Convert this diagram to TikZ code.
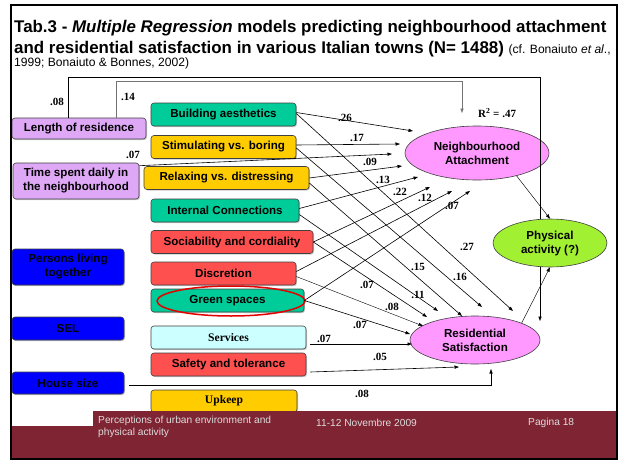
\documentclass[tikz,border=0pt]{standalone}
\usepackage{fontspec}
\setmainfont{Liberation Sans}
\newfontfamily\tnr{Liberation Serif}
\usetikzlibrary{arrows.meta,shapes.geometric,shadows}
\definecolor{lav}{HTML}{DFA8F7}
\definecolor{tealA}{HTML}{00CC99}
\definecolor{goldA}{HTML}{FFCC00}
\definecolor{redA}{HTML}{FF5050}
\definecolor{cyanA}{HTML}{CCFFFF}
\definecolor{blueA}{HTML}{0000FF}
\definecolor{pinkA}{HTML}{FF99FF}
\definecolor{limeA}{HTML}{A2F032}
\definecolor{maroonA}{HTML}{7E2433}
\definecolor{footgray}{HTML}{DCDCDC}
\tikzset{
  box/.style={draw=black!75, line width=0.6pt, rounded corners=3pt, minimum height=23pt,
    inner sep=0pt, align=center, font=\fontsize{11.6}{14}\selectfont\bfseries,
    drop shadow={shadow xshift=1pt,shadow yshift=-1.2pt,fill=black!40}},
  serifbox/.style={box, font=\tnr\fontsize{11.6}{14}\selectfont\bfseries},
  ell/.style={ellipse, draw=black!75, line width=0.6pt, inner sep=0pt, align=center,
    font=\fontsize{11.6}{14}\selectfont\bfseries},
  arr/.style={-{Triangle[length=4.5pt,width=3.2pt]}, line width=0.6pt},
  coef/.style={inner sep=0pt, font=\tnr\fontsize{11}{12}\selectfont\bfseries},
  foot/.style={inner sep=0pt, text=footgray, font=\fontsize{10.2}{12}\selectfont},
}
\begin{document}
\begin{tikzpicture}[x=1pt,y=-1pt]
\useasboundingbox (0,0) rectangle (624,463);
\fill[white] (0,0) rectangle (624,463);

% title
\node[anchor=base west, inner sep=0pt, font=\fontsize{16.9}{19}\selectfont\bfseries] (ti1) at (14,32)
  {Tab.3 - \textit{Multiple Regression} models predicting neighbourhood attachment};
\node[anchor=base west, inner sep=0pt, font=\fontsize{16.9}{19}\selectfont\bfseries] (ti2) at (14,53)
  {and residential satisfaction in various Italian towns (N= 1488) {\mdseries\fontsize{12.1}{13}\selectfont (cf. Bonaiuto \textit{et al}.,}};
\node[anchor=base west, inner sep=0pt, font=\fontsize{12.1}{13}\selectfont] (ti3) at (14,66)
  {1999; Bonaiuto \& Bonnes, 2002)};

% ellipses
\node[ell, fill=pinkA, minimum width=144pt, minimum height=54pt] (na) at (477,153) {Neighbourhood\\Attachment};
\node[ell, fill=pinkA, minimum width=130pt, minimum height=48pt] (rs) at (475,340) {Residential\\Satisfaction};

% left boxes
\node[box, fill=lav, minimum width=134pt, minimum height=21pt] (lr) at (79,128.5) {Length of residence};
\node[box, fill=lav, minimum width=126pt, minimum height=36pt] (ts) at (76,181) {Time spent daily in\\the neighbourhood};
\node[box, fill=blueA, minimum width=112pt, minimum height=36pt] (pl) at (68,267) {Persons living\\together};
\node[box, fill=blueA, minimum width=112pt] (sel) at (68,328.5) {SEL};
\node[box, fill=blueA, minimum width=112pt, minimum height=22pt] (hs) at (68,383) {House size};

% middle boxes
\node[box, fill=tealA, minimum width=145pt] (ba) at (223.5,114.5) {Building aesthetics};
\node[box, fill=goldA, minimum width=145pt] (stim) at (223.5,147) {Stimulating vs. boring};
\node[box, fill=goldA, minimum width=165pt] (rel) at (226.5,178) {Relaxing vs. distressing};
\node[box, fill=tealA, minimum width=148pt] (ic) at (225,210.5) {Internal Connections};
\node[box, fill=redA, minimum width=162pt] (soc) at (232,242) {Sociability and cordiality};
\node[box, fill=redA, minimum width=145pt] (disc) at (223.5,273.5) {Discretion};
\node[box, fill=tealA, minimum width=153pt] (gs) at (227.5,300.5) {Green spaces};
\node[ellipse, draw=red!90!black, line width=1.5pt, minimum width=148pt, minimum height=30pt, inner sep=0pt] (gsring) at (231,301) {};
\node[serifbox, fill=cyanA, minimum width=155pt] (sv) at (228.5,337.5) {Services};
\node[box, fill=redA, minimum width=155pt] (sf) at (228.5,364.5) {Safety and tolerance};
\node[serifbox, fill=goldA, minimum width=146pt, minimum height=22pt] (uk) at (224,401) {Upkeep};

% tip coordinates
\coordinate (na1) at (413,131);
\coordinate (na2) at (400,144);
\coordinate (na3) at (392,154);
\coordinate (na4) at (402,166);
\coordinate (na5) at (418,177);
\coordinate (na6) at (430,187);
\coordinate (na7) at (452,191);
\coordinate (na8) at (470,191);
\coordinate (rs1) at (513,311);
\coordinate (rs2) at (482,307);
\coordinate (rs3) at (462,316);
\coordinate (rs4) at (438,311);
\coordinate (rs5) at (427,317);
\coordinate (rs6) at (423,326);
\coordinate (rs7) at (410,334);
\coordinate (rs8) at (412,344);
\coordinate (rs9) at (459,367);
\coordinate (rs10) at (491,369);
\coordinate (rs11) at (540,321);
\coordinate (c540) at (540,77);
\coordinate (c462) at (462,81);
\coordinate (natop) at (462,113);

% arrows to NA
\draw[arr] ([yshift=2pt]ba.east) -- (na1);
\draw[arr] ([yshift=2pt]stim.east) -- (na2);
\draw[arr] ([yshift=-3pt]ts.north east) -- (na3);
\draw[arr] (rel.east) -- (na4);
\draw[arr] ([yshift=2pt]ic.east) -- (na5);
\draw[arr] (soc.east) -- (na6);
\draw[arr] ([yshift=2pt]disc.east) -- (na7);
\draw[arr] (gs.east) -- (na8);
% arrows to RS
\draw[arr] ([yshift=1pt]ba.east) -- (rs1);
\draw[arr] ([yshift=-1pt]stim.east) -- (rs2);
\draw[arr] ([yshift=-5pt]rel.east) -- (rs3);
\draw[arr] ([yshift=-4pt]ic.east) -- (rs4);
\draw[arr] (soc.east) -- (rs5);
\draw[arr, line width=0.4pt] ([yshift=-3pt]disc.east) -- (rs6);
\draw[arr] (gs.east) -- (rs7);
\draw[arr] ([xshift=4pt,yshift=-6.5pt]sv.east) -- (rs8);
\draw[arr] ([xshift=4pt,yshift=-7.5pt]sf.east) -- (rs9);
\draw[arr] ([xshift=5pt,yshift=-2pt]hs.east) -| (rs10);
\draw[arr] ([xshift=-11pt]lr.north) |- (c540) -- (rs11);
\draw[arr, draw=black!55] ([xshift=37pt]lr.north) |- (c462) -- (natop);

% physical activity
\node[ell, fill=limeA, minimum width=114pt, minimum height=48pt] (pa) at (550,243) {Physical\\activity (?)};
\draw[arr, line width=0.45pt] (na.-30) -- (pa.north);
\draw[arr, line width=0.45pt] (rs.20) -- (pa.south);

% coefficients
\node[coef] (k1) at (345,118) {.26};
\node[coef] (k2) at (357,138) {.17};
\node[coef] (k3) at (133,155) {.07};
\node[coef] (k4) at (370,162) {.09};
\node[coef] (k5) at (383,180) {.13};
\node[coef] (k6) at (400,192) {.22};
\node[coef] (k7) at (425,198) {.12};
\node[coef] (k8) at (452,206) {.07};
\node[coef] (k9) at (467,247) {.27};
\node[coef] (k10) at (460,277) {.16};
\node[coef] (k11) at (418,267) {.15};
\node[coef] (k12) at (418,295) {.11};
\node[coef] (k13) at (367,285) {.07};
\node[coef] (k14) at (392,307) {.08};
\node[coef] (k15) at (360,325) {.07};
\node[coef] (k16) at (324,339) {.07};
\node[coef] (k17) at (380,357) {.05};
\node[coef] (k18) at (362,394) {.08};
\node[coef] (k19) at (57,102) {.08};
\node[coef] (k20) at (128,97) {.14};
\node[coef, anchor=west] (r2) at (478,113) {R\textsuperscript{2} = .47};

% footer
\fill[maroonA] (93,411) -- (617,411) -- (617,459) -- (11,459) -- (11,426) -- (93,426) -- cycle;
\node[foot, anchor=north west, align=left] (f1) at (98,416)
  {Perceptions of urban environment and\\physical activity};
\node[foot, anchor=west] (f2) at (316,423) {11-12 Novembre 2009};
\node[foot, anchor=west] (f3) at (528,423) {Pagina 18};

% frame
\draw[line width=2.5pt] (11,5) rectangle (617,459);
\end{tikzpicture}
\end{document}
